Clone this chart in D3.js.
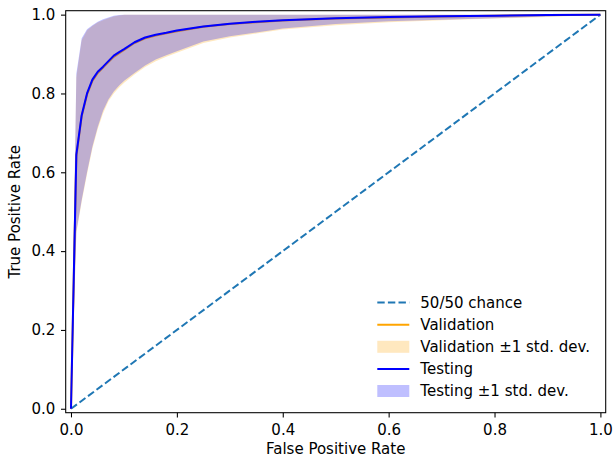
<!DOCTYPE html>
<html>
<head>
<meta charset="utf-8">
<script src="https://cdn.jsdelivr.net/npm/d3@7"></script>
<style>
  html, body { margin: 0; padding: 0; background: #fff; }
  svg { display: block; font-family: "DejaVu Sans", sans-serif; }
</style>
</head>
<body>
<svg id="chart" width="613" height="457"></svg>
<script>
// False positive rate grid shared by the mean ROC curves
const fpr = [0, 0.0101, 0.0202, 0.0303, 0.0404, 0.0505, 0.0606, 0.0707, 0.0808, 0.0909,
             0.101, 0.12, 0.14, 0.16, 0.18, 0.20, 0.25, 0.30, 0.35, 0.40,
             0.50, 0.60, 0.70, 0.80, 0.90, 1.0];

// Validation: mean TPR and ±1 std. dev. envelope
const valMean  = [0, 0.640, 0.742, 0.797, 0.832, 0.852, 0.866, 0.880, 0.893, 0.902,
                  0.911, 0.928, 0.940, 0.947, 0.953, 0.958, 0.969, 0.976, 0.981, 0.985,
                  0.990, 0.993, 0.995, 0.997, 0.999, 1.0];
const valUpper = [0, 0.840, 0.935, 0.960, 0.971, 0.980, 0.986, 0.991, 0.995, 0.998,
                  1.0, 1.0, 1.0, 1.0, 1.0, 1.0, 1.0, 1.0, 1.0, 1.0,
                  1.0, 1.0, 1.0, 1.0, 1.0, 1.0];
const valLower = [0, 0.445, 0.525, 0.595, 0.660, 0.710, 0.750, 0.780, 0.800, 0.815,
                  0.828, 0.848, 0.867, 0.882, 0.893, 0.903, 0.928, 0.942, 0.952, 0.962,
                  0.973, 0.981, 0.986, 0.990, 0.994, 1.0];

// Testing: mean TPR and ±1 std. dev. envelope
const testMean  = [0, 0.645, 0.745, 0.800, 0.835, 0.855, 0.868, 0.882, 0.896, 0.905,
                   0.913, 0.930, 0.942, 0.949, 0.954, 0.960, 0.970, 0.977, 0.982, 0.986,
                   0.991, 0.994, 0.996, 0.997, 0.999, 1.0];
const testUpper = [0, 0.850, 0.940, 0.963, 0.973, 0.982, 0.988, 0.993, 0.997, 0.999,
                   1.0, 1.0, 1.0, 1.0, 1.0, 1.0, 1.0, 1.0, 1.0, 1.0,
                   1.0, 1.0, 1.0, 1.0, 1.0, 1.0];
const testLower = [0, 0.450, 0.530, 0.600, 0.665, 0.715, 0.756, 0.785, 0.805, 0.820,
                   0.833, 0.852, 0.871, 0.886, 0.897, 0.907, 0.932, 0.945, 0.955, 0.965,
                   0.976, 0.983, 0.987, 0.991, 0.995, 1.0];

// Diagonal reference (random classifier)
const chanceX = [0, 1];
const chanceY = [0, 1];

const tickValues = [0, 0.2, 0.4, 0.6, 0.8, 1.0];
const legendLabels = ["50/50 chance", "Validation", "Validation \u00b11 std. dev.", "Testing", "Testing \u00b11 std. dev."];

const FONT = "15px";
const svg = d3.select("#chart");
const plot = { left: 65.7, right: 605.7, top: 10.7, bottom: 412.7 };

const x = d3.scaleLinear().domain([-0.01, 1.01]).range([plot.left, plot.right]);
const y = d3.scaleLinear().domain([-0.01, 1.01]).range([plot.bottom, plot.top]);

const zip = (xs, ys) => xs.map((v, i) => [v, ys[i]]);

const line = d3.line().x(d => x(d[0])).y(d => y(d[1]));
const band = d3.area()
  .x(d => x(d.x))
  .y0(d => y(d.lo))
  .y1(d => y(d.hi));

const bandData = (lo, hi) => fpr.map((v, i) => ({ x: v, lo: lo[i], hi: hi[i] }));

const g = svg.append("g");

// chance diagonal
g.append("path")
  .attr("d", line(zip(chanceX, chanceY)))
  .attr("fill", "none")
  .attr("stroke", "#1f77b4")
  .attr("stroke-width", 2)
  .attr("stroke-dasharray", "7.4,3.2");

// validation curve and envelope
g.append("path")
  .attr("d", line(zip(fpr, valMean)))
  .attr("fill", "none")
  .attr("stroke", "orange")
  .attr("stroke-width", 2)
  .attr("stroke-linejoin", "round");
g.append("path")
  .attr("d", band(bandData(valLower, valUpper)))
  .attr("fill", "orange")
  .attr("fill-opacity", 0.25);

// testing curve and envelope
g.append("path")
  .attr("d", line(zip(fpr, testMean)))
  .attr("fill", "none")
  .attr("stroke", "blue")
  .attr("stroke-width", 2)
  .attr("stroke-linejoin", "round");
g.append("path")
  .attr("d", band(bandData(testLower, testUpper)))
  .attr("fill", "blue")
  .attr("fill-opacity", 0.25);

// axes
const fmt = d3.format(".1f");
const xAxis = svg.append("g")
  .attr("transform", `translate(0,${plot.bottom})`)
  .call(d3.axisBottom(x).tickValues(tickValues).tickFormat(fmt).tickSize(4.7).tickPadding(7.4));
const yAxis = svg.append("g")
  .attr("transform", `translate(${plot.left},0)`)
  .call(d3.axisLeft(y).tickValues(tickValues).tickFormat(fmt).tickSize(4.7).tickPadding(5.6));

[xAxis, yAxis].forEach(a => {
  a.select(".domain").remove();
  a.selectAll(".tick line").attr("stroke", "#000").attr("stroke-width", 1.07);
  a.selectAll(".tick text")
    .attr("fill", "#000")
    .style("font-family", "'DejaVu Sans', sans-serif")
    .style("font-size", FONT);
});

// frame
svg.append("rect")
  .attr("x", plot.left).attr("y", plot.top)
  .attr("width", plot.right - plot.left).attr("height", plot.bottom - plot.top)
  .attr("fill", "none").attr("stroke", "#000").attr("stroke-width", 1.07);

// axis titles
svg.append("text")
  .attr("x", (plot.left + plot.right) / 2).attr("y", 454)
  .attr("text-anchor", "middle")
  .style("font-size", FONT)
  .text("False Positive Rate");
svg.append("text")
  .attr("transform", `translate(20,${(plot.top + plot.bottom) / 2}) rotate(-90)`)
  .attr("text-anchor", "middle")
  .style("font-size", FONT)
  .text("True Positive Rate");

// legend
const legend = svg.append("g");
const legX0 = 377.3, legX1 = 409.3, legTextX = 420.3, legY0 = 302.6, legStep = 22.1;
const handles = [
  { kind: "line", color: "#1f77b4", dash: "7.4,3.2" },
  { kind: "line", color: "orange" },
  { kind: "patch", color: "orange" },
  { kind: "line", color: "blue" },
  { kind: "patch", color: "blue" }
];
handles.forEach((h, i) => {
  const cy = legY0 + i * legStep;
  if (h.kind === "line") {
    legend.append("line")
      .attr("x1", legX0).attr("x2", legX1).attr("y1", cy).attr("y2", cy)
      .attr("stroke", h.color).attr("stroke-width", 2)
      .attr("stroke-dasharray", h.dash || null);
  } else {
    legend.append("rect")
      .attr("x", legX0).attr("y", cy - 6)
      .attr("width", legX1 - legX0).attr("height", 12)
      .attr("fill", h.color).attr("fill-opacity", 0.25);
  }
  legend.append("text")
    .attr("x", legTextX).attr("y", cy + 5.2)
    .style("font-size", FONT)
    .text(legendLabels[i]);
});
</script>
</body>
</html>
